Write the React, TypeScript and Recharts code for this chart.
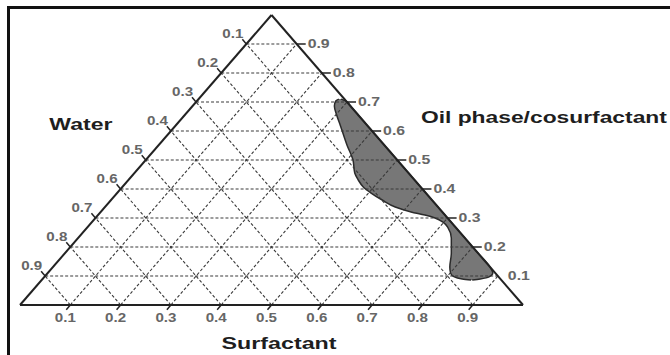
import { Area, ComposedChart, ReferenceDot, ReferenceLine, XAxis, YAxis } from "recharts";

// composition ticks shared by all three axes
const TICKS = [0.1, 0.2, 0.3, 0.4, 0.5, 0.6, 0.7, 0.8, 0.9];
const TICK_LABELS = ["0.1", "0.2", "0.3", "0.4", "0.5", "0.6", "0.7", "0.8", "0.9"];

// microemulsion region, read row by row: oil fraction -> surfactant span
const BLOB_OIL = [
  0.71, 0.703, 0.686, 0.655, 0.621, 0.552, 0.5, 0.455, 0.431, 0.407, 0.386, 0.362, 0.338,
  0.321, 0.31, 0.3, 0.286, 0.266, 0.231, 0.179, 0.131, 0.11, 0.097, 0.09, 0.086,
];
const BLOB_SURF_MIN = [
  0.279, 0.276, 0.282, 0.302, 0.326, 0.374, 0.412, 0.438, 0.457, 0.479, 0.505, 0.539, 0.577,
  0.617, 0.65, 0.675, 0.698, 0.718, 0.742, 0.768, 0.789, 0.801, 0.815, 0.834, 0.854,
];
const BLOB_SURF_MAX = [
  0.283, 0.297, 0.314, 0.345, 0.379, 0.448, 0.5, 0.545, 0.569, 0.593, 0.614, 0.638, 0.662,
  0.679, 0.69, 0.7, 0.714, 0.734, 0.769, 0.821, 0.869, 0.885, 0.884, 0.87, 0.856,
];

const AXIS_TITLES = { water: "Water", oil: "Oil phase/cosurfactant", surfactant: "Surfactant" };

// canvas + triangle placement (px)
const W = 670;
const H = 355;
const LEFT = 20;
const RIGHT = 523;
const BASE = 305;
const APEX = 15;
const KX = RIGHT - LEFT;
const KY = BASE - APEX;
const X_DOMAIN = [-LEFT / KX, (W - LEFT) / KX];
const Y_DOMAIN = [(BASE - H) / KY, BASE / KY];

const FONT = "'Liberation Sans', Arial, sans-serif";
const GRID = "#3a3a3a";
const EDGE = "#222";

// ternary (surfactant, oil) -> cartesian
const pt = (s: number, o: number) => ({ x: s + o / 2, y: o });

const blobRows = BLOB_OIL.map((o, i) => ({
  y: o,
  span: [BLOB_SURF_MIN[i] + o / 2, BLOB_SURF_MAX[i] + o / 2],
}));

type TextOpts = {
  dx?: number;
  dy?: number;
  anchor?: "start" | "middle" | "end";
  size?: number;
  bold?: boolean;
  fill?: string;
  len?: number;
};

const textShape =
  (text: string, { dx = 0, dy = 0, anchor = "middle", size = 12, bold = true, fill = "#666", len }: TextOpts) =>
  (props: any) => (
    <text
      x={props.cx + dx}
      y={props.cy + dy}
      textAnchor={anchor}
      dominantBaseline="central"
      fontFamily={FONT}
      fontSize={size}
      fontWeight={bold ? "bold" : "normal"}
      fill={fill}
      textLength={len}
      lengthAdjust={len ? "spacingAndGlyphs" : undefined}
    >
      {text}
    </text>
  );

export default function App() {
  const t = 0.016;
  const dash = { stroke: GRID, strokeWidth: 1.1, strokeDasharray: "3 2" };
  return (
    <div style={{ position: "absolute", left: 0, top: 0, width: W, height: H, background: "#fff" }}>
      <div
        style={{
          position: "absolute",
          left: 7,
          top: 6,
          width: W - 7,
          height: H - 6,
          borderTop: "3px solid #111",
          borderLeft: "3px solid #111",
          boxSizing: "border-box",
        }}
      />
      <div style={{ position: "absolute", left: 0, top: 0 }}>
        <ComposedChart
          layout="vertical"
          width={W}
          height={H}
          data={blobRows}
          margin={{ top: 0, right: 0, bottom: 0, left: 0 }}
        >
          <XAxis type="number" domain={X_DOMAIN} hide allowDataOverflow />
          <YAxis type="number" dataKey="y" domain={Y_DOMAIN} hide allowDataOverflow reversed />

          <Area
            dataKey="span"
            type="monotone"
            fill="#777"
            fillOpacity={1}
            stroke="#2b2b2b"
            strokeWidth={1.5}
            dot={false}
            activeDot={false}
            isAnimationActive={false}
          />

          {/* dashed grid, three families */}
          {TICKS.map((k) => (
            <ReferenceLine key={`o${k}`} segment={[pt(0, k), pt(1 - k, k)]} {...dash} />
          ))}
          {TICKS.map((k) => (
            <ReferenceLine key={`s${k}`} segment={[pt(k, 0), pt(k, 1 - k)]} {...dash} />
          ))}
          {TICKS.map((k) => (
            <ReferenceLine key={`w${k}`} segment={[pt(1 - k, 0), pt(0, 1 - k)]} {...dash} />
          ))}

          {/* triangle */}
          <ReferenceLine segment={[pt(0, 0), pt(1, 0)]} stroke={EDGE} strokeWidth={2} />
          <ReferenceLine segment={[pt(1, 0), pt(0, 1)]} stroke={EDGE} strokeWidth={2} />
          <ReferenceLine segment={[pt(0, 1), pt(0, 0)]} stroke={EDGE} strokeWidth={2} />

          {/* tick marks */}
          {TICKS.map((k) => (
            <ReferenceLine key={`lt${k}`} segment={[pt(0, 1 - k), pt(-t, 1 - k + t)]} stroke={EDGE} strokeWidth={1.5} />
          ))}
          {TICKS.map((k) => (
            <ReferenceLine key={`bt${k}`} segment={[pt(k, 0), pt(k, -t)]} stroke={EDGE} strokeWidth={1.5} />
          ))}
          {TICKS.filter((k) => k > 0.15).map((k) => (
            <ReferenceLine key={`rt${k}`} segment={[pt(1 - k, k), pt(1 - k + 0.018, k)]} stroke={EDGE} strokeWidth={1.5} />
          ))}

          {/* tick labels */}
          {TICKS.map((k, i) => {
            const p = pt(0, 1 - k);
            return (
              <ReferenceDot key={`ll${k}`} x={p.x} y={p.y} r={0}
                shape={textShape(TICK_LABELS[i], { dx: -3, dy: -10, anchor: "end", len: 21 })} />
            );
          })}
          {TICKS.map((k, i) => {
            const p = pt(k, 0);
            return (
              <ReferenceDot key={`bl${k}`} x={p.x} y={p.y} r={0}
                shape={textShape(TICK_LABELS[i], { dx: -5, dy: 13, anchor: "middle", len: 21 })} />
            );
          })}
          {TICKS.map((k, i) => {
            const p = pt(1 - k, k);
            return (
              <ReferenceDot key={`rl${k}`} x={p.x} y={p.y} r={0}
                shape={textShape(TICK_LABELS[i], { dx: k > 0.15 ? 11 : 10, dy: 0, anchor: "start", len: 22 })} />
            );
          })}

          {/* axis titles */}
          <ReferenceDot x={0.121} y={0.621} r={0}
            shape={textShape(AXIS_TITLES.water, { size: 16, fill: "#1e1e1e", len: 63 })} />
          <ReferenceDot x={0.797} y={0.645} r={0}
            shape={textShape(AXIS_TITLES.oil, { anchor: "start", size: 17, fill: "#1e1e1e", len: 246 })} />
          <ReferenceDot x={0.515} y={-0.134} r={0}
            shape={textShape(AXIS_TITLES.surfactant, { size: 16, fill: "#1e1e1e", len: 115 })} />
        </ComposedChart>
      </div>
    </div>
  );
}
